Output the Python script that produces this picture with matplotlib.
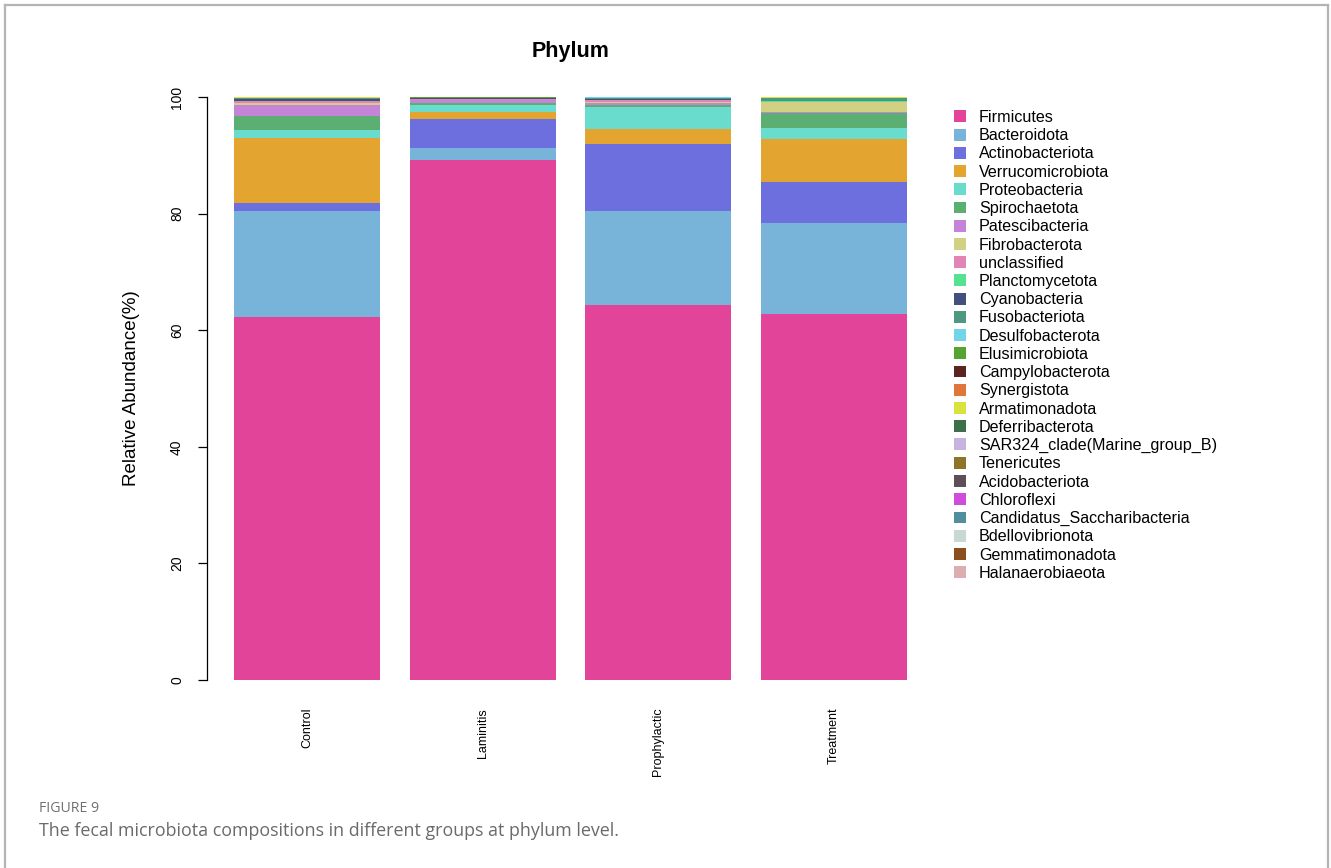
import matplotlib
matplotlib.use("Agg")
import matplotlib.pyplot as plt
from matplotlib.patches import Patch
from matplotlib.lines import Line2D

plt.rcParams["font.family"] = ["Liberation Sans", "DejaVu Sans"]

groups = ["Control", "Laminitis", "Prophylactic", "Treatment"]

phyla = ["Firmicutes", "Bacteroidota", "Actinobacteriota", "Verrucomicrobiota",
         "Proteobacteria", "Spirochaetota", "Patescibacteria", "Fibrobacterota",
         "unclassified", "Planctomycetota", "Cyanobacteria", "Fusobacteriota",
         "Desulfobacterota", "Elusimicrobiota", "Campylobacterota", "Synergistota",
         "Armatimonadota", "Deferribacterota", "SAR324_clade(Marine_group_B)",
         "Tenericutes", "Acidobacteriota", "Chloroflexi",
         "Candidatus_Saccharibacteria", "Bdellovibrionota", "Gemmatimonadota",
         "Halanaerobiaeota"]

colors = ["#E2449A", "#78B3D9", "#6C6FDD", "#E3A52F", "#69DCCE", "#5BAF73",
          "#C584D8", "#D2D183", "#E284B5", "#53E28F", "#43507E", "#4E9781",
          "#70D5E6", "#55A332", "#5B2420", "#E0763A", "#D8E33D", "#3E6F4A",
          "#C9B3E0", "#8D7428", "#5C4F5A", "#CF4CDC", "#4F8E9D", "#C9D8D2",
          "#8B4E1F", "#DFACB2"]

# relative abundance (%) per phylum, one list per group
control = [62.3, 18.1, 1.4, 11.1, 1.5, 2.4, 1.9, 0.3, 0.25, 0.1, 0.35, 0.1,
           0.05, 0.02, 0.02, 0.02, 0.01, 0.02, 0.01, 0.01, 0.01, 0.01, 0.01,
           0.005, 0.0025, 0.0025]
laminitis = [89.2, 2.0, 5.0, 1.2, 1.2, 0.3, 0.5, 0.1, 0.15, 0.05, 0.05, 0.1,
             0.05, 0.03, 0.01, 0.01, 0.01, 0.01, 0.01, 0.01, 0.005, 0.005,
             0.005, 0.005, 0.005, 0.005]
prophylactic = [64.3, 16.1, 11.5, 2.6, 3.7, 0.4, 0.4, 0.1, 0.35, 0.1, 0.05,
                0.3, 0.05, 0.01, 0.01, 0.005, 0.005, 0.005, 0.005, 0.005,
                0.005, 0.005, 0.005, 0.0, 0.0, 0.0]
treatment = [62.8, 15.6, 7.0, 7.4, 1.8, 2.7, 0.2, 1.6, 0.1, 0.05, 0.1, 0.4,
             0.05, 0.05, 0.03, 0.03, 0.02, 0.02, 0.01, 0.02, 0.01, 0.01, 0.01,
             0.005, 0.0025, 0.0025]

data = [control, laminitis, prophylactic, treatment]

fig = plt.figure(figsize=(13.31, 8.68), dpi=100)

# page frame around the figure panel
W, H = 1331, 868
frame = dict(color="#b4b4b4", lw=1.6)
fig.add_artist(Line2D([4.5 / W, 4.5 / W], [0, 1 - 5 / H], **frame))
fig.add_artist(Line2D([4.5 / W, 1327.5 / W], [1 - 5 / H, 1 - 5 / H], **frame))
fig.add_artist(Line2D([1327.5 / W, 1327.5 / W], [0, 1 - 5 / H], **frame))

ax = fig.add_axes([207 / W, 188 / H, 700 / W, 583 / H])

width = 1.0
pos = [0.7 + 1.2 * i for i in range(len(groups))]
for vals, x in zip(data, pos):
    bottom = 0.0
    for v, c in zip(vals, colors):
        ax.bar(x, v, width=width, bottom=bottom, color=c, edgecolor="none", linewidth=0)
        bottom += v

ax.set_xlim(0.2 - 27 / 146.25, 4.8)
ax.set_ylim(0, 100)
for s in ["top", "right", "bottom"]:
    ax.spines[s].set_visible(False)
ax.spines["left"].set_linewidth(0.9)
ax.set_yticks([0, 20, 40, 60, 80, 100])
ax.set_yticklabels(["0", "20", "40", "60", "80", "100"], rotation=90, va="center", fontsize=10)
ax.tick_params(axis="y", length=6.5, width=0.9, pad=10)
ax.set_xticks(pos)
ax.set_xticklabels(groups, rotation=90, va="top", ha="center", fontsize=9)
ax.tick_params(axis="x", length=0, pad=20)
ax.set_ylabel("Relative Abundance(%)", fontsize=13.5, labelpad=22)
ax.set_title("Phylum", fontsize=15.5, fontweight="bold", pad=29)
ax.title.set_position((0.52, 1))

handles = [Patch(facecolor=c, edgecolor="none") for c in colors]
leg = fig.legend(handles, phyla, loc="upper left", bbox_to_anchor=(954 / W, 1 - 110 / H),
                 frameon=False, fontsize=11.6, handlelength=0.75, handleheight=0.75,
                 handletextpad=0.8, labelspacing=0.2, borderpad=0, borderaxespad=0)

fig.text(39 / W, 1 - 808 / H, "FIGURE 9", fontsize=10.2, color="#707070",
         family=["Open Sans", "DejaVu Sans"], va="center")
fig.text(39 / W, 1 - 831 / H,
         "The fecal microbiota compositions in different groups at phylum level.",
         fontsize=12.9, color="#6a6a6a", family=["Open Sans", "DejaVu Sans"], va="center")

fig.savefig("out.png", dpi=100)
